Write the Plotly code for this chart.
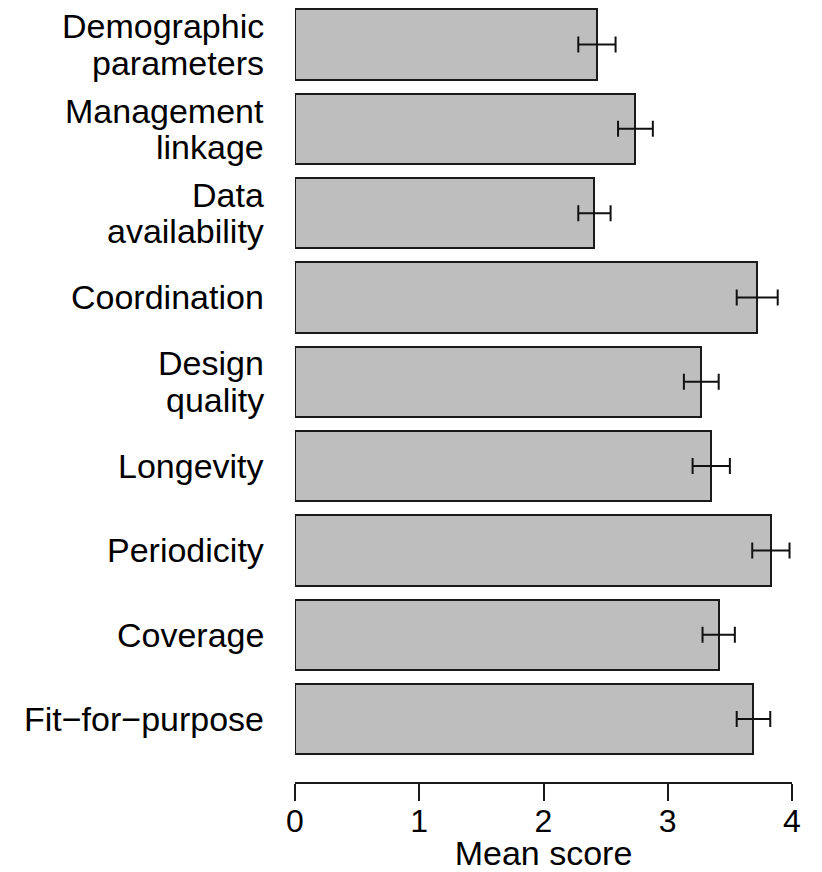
import plotly.graph_objects as go

# Criteria, listed top to bottom as they appear on the chart
criteria = [
    "Demographic\nparameters",
    "Management\nlinkage",
    "Data\navailability",
    "Coordination",
    "Design\nquality",
    "Longevity",
    "Periodicity",
    "Coverage",
    "Fit\u2212for\u2212purpose",
]
mean_score = [2.43, 2.74, 2.41, 3.72, 3.27, 3.35, 3.83, 3.41, 3.69]
std_error = [0.15, 0.14, 0.13, 0.165, 0.14, 0.15, 0.15, 0.13, 0.135]
x_ticks = [0, 1, 2, 3, 4]

FONT = "Liberation Sans, Arial, Helvetica, sans-serif"

fig = go.Figure()
fig.add_trace(
    go.Bar(
        y=criteria,
        x=mean_score,
        orientation="h",
        width=1 / 1.2,
        marker=dict(color="#bebebe", line=dict(color="#1a1a1a", width=2)),
        error_x=dict(
            type="data",
            array=std_error,
            symmetric=True,
            color="#111111",
            thickness=2,
            width=8,
        ),
        cliponaxis=False,
        showlegend=False,
    )
)

# Category labels, one annotation per text line for tight line spacing
line_gap = 18.3
for name in criteria:
    lines = name.split("\n")
    n = len(lines)
    for i, txt in enumerate(lines):
        offset = ((n - 1) / 2 - i) * 2 * line_gap
        fig.add_annotation(
            x=0,
            y=name,
            xref="x",
            yref="y",
            text=txt,
            showarrow=False,
            xanchor="right",
            yanchor="middle",
            xshift=-29,
            yshift=offset,
            font=dict(family=FONT, size=34, color="black"),
        )

fig.update_layout(
    width=822,
    height=872,
    margin=dict(l=295, r=30, t=0, b=90),
    paper_bgcolor="white",
    plot_bgcolor="white",
    font=dict(family=FONT, color="black"),
    bargap=0,
)
fig.update_xaxes(
    range=[0, 4],
    tickvals=x_ticks,
    ticktext=[str(v) for v in x_ticks],
    ticks="outside",
    ticklen=17,
    tickwidth=2,
    tickcolor="#1a1a1a",
    showline=True,
    linecolor="#1a1a1a",
    linewidth=2,
    showgrid=False,
    zeroline=False,
    ticklabelstandoff=-7,
    tickfont=dict(family=FONT, size=32, color="black"),
    title=dict(text="Mean score", font=dict(family=FONT, size=34, color="black"), standoff=6),
)
fig.update_yaxes(
    categoryorder="array",
    categoryarray=list(reversed(criteria)),
    range=[-0.747, 8.528],
    showticklabels=False,
    showgrid=False,
    zeroline=False,
    showline=False,
    ticks="",
)

fig.write_html("out.html")
